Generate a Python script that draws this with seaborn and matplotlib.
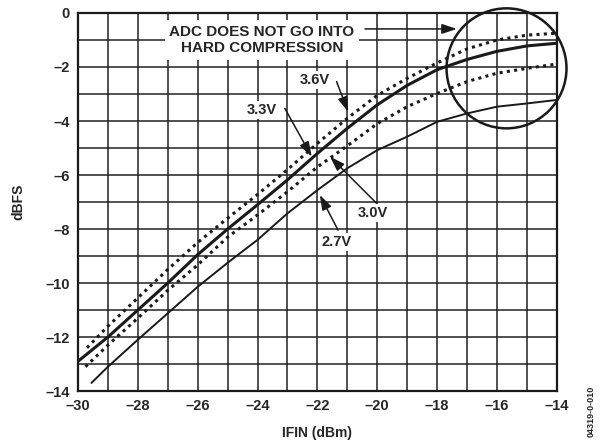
import numpy as np
import pandas as pd
import matplotlib
matplotlib.use("Agg")
import matplotlib.pyplot as plt
import seaborn as sns
from matplotlib.patches import Ellipse
from matplotlib.ticker import MultipleLocator

# ---- data ----
x_36 = [-29.7, -29, -28, -27, -26, -25, -24, -23, -22, -21, -20, -19, -18, -17, -16, -15, -14]
y_36 = [-12.4, -11.6, -10.55, -9.5, -8.5, -7.6, -6.72, -5.8, -4.83, -3.9, -3.05, -2.42, -1.85, -1.33, -1.0, -0.82, -0.75]

x_33 = [-30, -29, -28, -27, -26, -25, -24, -23, -22, -21, -20, -19, -18, -17, -16, -15, -14]
y_33 = [-12.9, -12.0, -11.0, -10.0, -8.95, -8.0, -7.1, -6.18, -5.2, -4.27, -3.4, -2.68, -2.1, -1.72, -1.42, -1.22, -1.12]

x_30 = [-29.75, -29, -28, -27, -26, -25, -24, -23, -22, -21, -20, -19, -18, -17, -16, -15, -14]
y_30 = [-13.1, -12.3, -11.3, -10.27, -9.33, -8.3, -7.48, -6.62, -5.7, -4.92, -4.1, -3.47, -2.98, -2.54, -2.23, -2.05, -1.89]

x_27 = [-29.55, -29, -28, -27, -26, -25, -24, -23, -22, -21, -20, -19, -18, -17, -16, -15, -14]
y_27 = [-13.7, -13.1, -12.1, -11.12, -10.14, -9.25, -8.4, -7.42, -6.56, -5.75, -5.08, -4.58, -4.03, -3.72, -3.47, -3.35, -3.22]

x_ticks = [-30, -28, -26, -24, -22, -20, -18, -16, -14]
y_ticks = [0, -2, -4, -6, -8, -10, -12, -14]

sns.set_style("white")
plt.rcParams['font.family'] = ['Liberation Sans', 'DejaVu Sans']
plt.rcParams['font.weight'] = 'bold'

fig = plt.figure(figsize=(6, 4.45), dpi=100)
ax = fig.add_axes([0.13, 0.1213, 0.798, 0.8495])

styles = [
    ("3.6V", x_36, y_36, dict(lw=2.2, linestyle=(0, (1, 1.4)))),
    ("3.3V", x_33, y_33, dict(lw=2.2, linestyle='-')),
    ("3.0V", x_30, y_30, dict(lw=2.2, linestyle=(0, (1, 1.4)))),
    ("2.7V", x_27, y_27, dict(lw=1.4, linestyle='-')),
]
for name, xs, ys, kw in styles:
    df = pd.DataFrame({"IFIN": xs, "dBFS": ys})
    sns.lineplot(data=df, x="IFIN", y="dBFS", ax=ax, color="#1a1a1a", zorder=3, **kw)

ax.set_xlim(-30, -14)
ax.set_ylim(-14, 0)
ax.xaxis.set_major_locator(MultipleLocator(2))
ax.xaxis.set_minor_locator(MultipleLocator(1))
ax.yaxis.set_major_locator(MultipleLocator(2))
ax.yaxis.set_minor_locator(MultipleLocator(1))
ax.grid(which='both', color='#222222', lw=1.1)
ax.set_axisbelow(True)
ax.tick_params(which='both', length=0, labelsize=10.5, pad=6)
ax.set_xticks(x_ticks)
ax.set_xticklabels([f"\u2013{abs(v)}" for v in x_ticks], fontweight='bold')
ax.set_yticks(y_ticks)
ax.set_yticklabels([("0" if v == 0 else f"\u2013{abs(v)}") for v in y_ticks], fontweight='bold')
for s in ax.spines.values():
    s.set_color('#1a1a1a')
    s.set_linewidth(1.6)
ax.set_xlabel("IFIN (dBm)", fontsize=10, fontweight='bold', labelpad=9)
ax.set_ylabel("dBFS", fontsize=10, fontweight='bold', labelpad=14)

# circle (round in display space)
ell = Ellipse((-15.68, -2.05), width=120/29.94, height=120/27.0, fill=False,
              edgecolor='#1a1a1a', lw=1.8, clip_on=False, zorder=4)
ax.add_patch(ell)

# big text box
ax.text(-23.85, -1.0, "ADC DOES NOT GO INTO\nHARD COMPRESSION", ha='center', va='center',
        fontsize=11, fontweight='bold', linespacing=1.2, zorder=5,
        bbox=dict(boxstyle='square,pad=0.3', fc='white', ec='none'))
ax.annotate("", xy=(-17.34, -0.59), xytext=(-20.41, -0.59),
            arrowprops=dict(arrowstyle='-|>,head_length=0.9,head_width=0.3', color='#1a1a1a', lw=1.1,
                            shrinkA=0, shrinkB=0), zorder=5)

def label(text, tx, ty, sx, sy, ex, ey):
    ax.text(tx, ty, text, ha='center', va='center', fontsize=10.5, fontweight='bold', zorder=5,
            bbox=dict(boxstyle='square,pad=0.15', fc='white', ec='none'))
    ax.annotate("", xy=(ex, ey), xytext=(sx, sy),
                arrowprops=dict(arrowstyle='-|>,head_length=0.9,head_width=0.3', color='#1a1a1a', lw=1.1,
                                shrinkA=0, shrinkB=0), zorder=6)

label("3.6V", -22.08, -2.48, -21.36, -2.54, -20.97, -3.66)
label("3.3V", -23.86, -3.59, -23.09, -3.53, -22.19, -5.32)
label("3.0V", -20.15, -7.41, -20.02, -7.05, -21.58, -5.32)
label("2.7V", -21.36, -8.47, -21.31, -8.04, -21.92, -6.74)

fig.text(0.986, 0.075, "04319-0-010", rotation=90, ha='center', va='center', fontsize=6.5, fontweight='bold')

fig.savefig("out.png", dpi=100)
